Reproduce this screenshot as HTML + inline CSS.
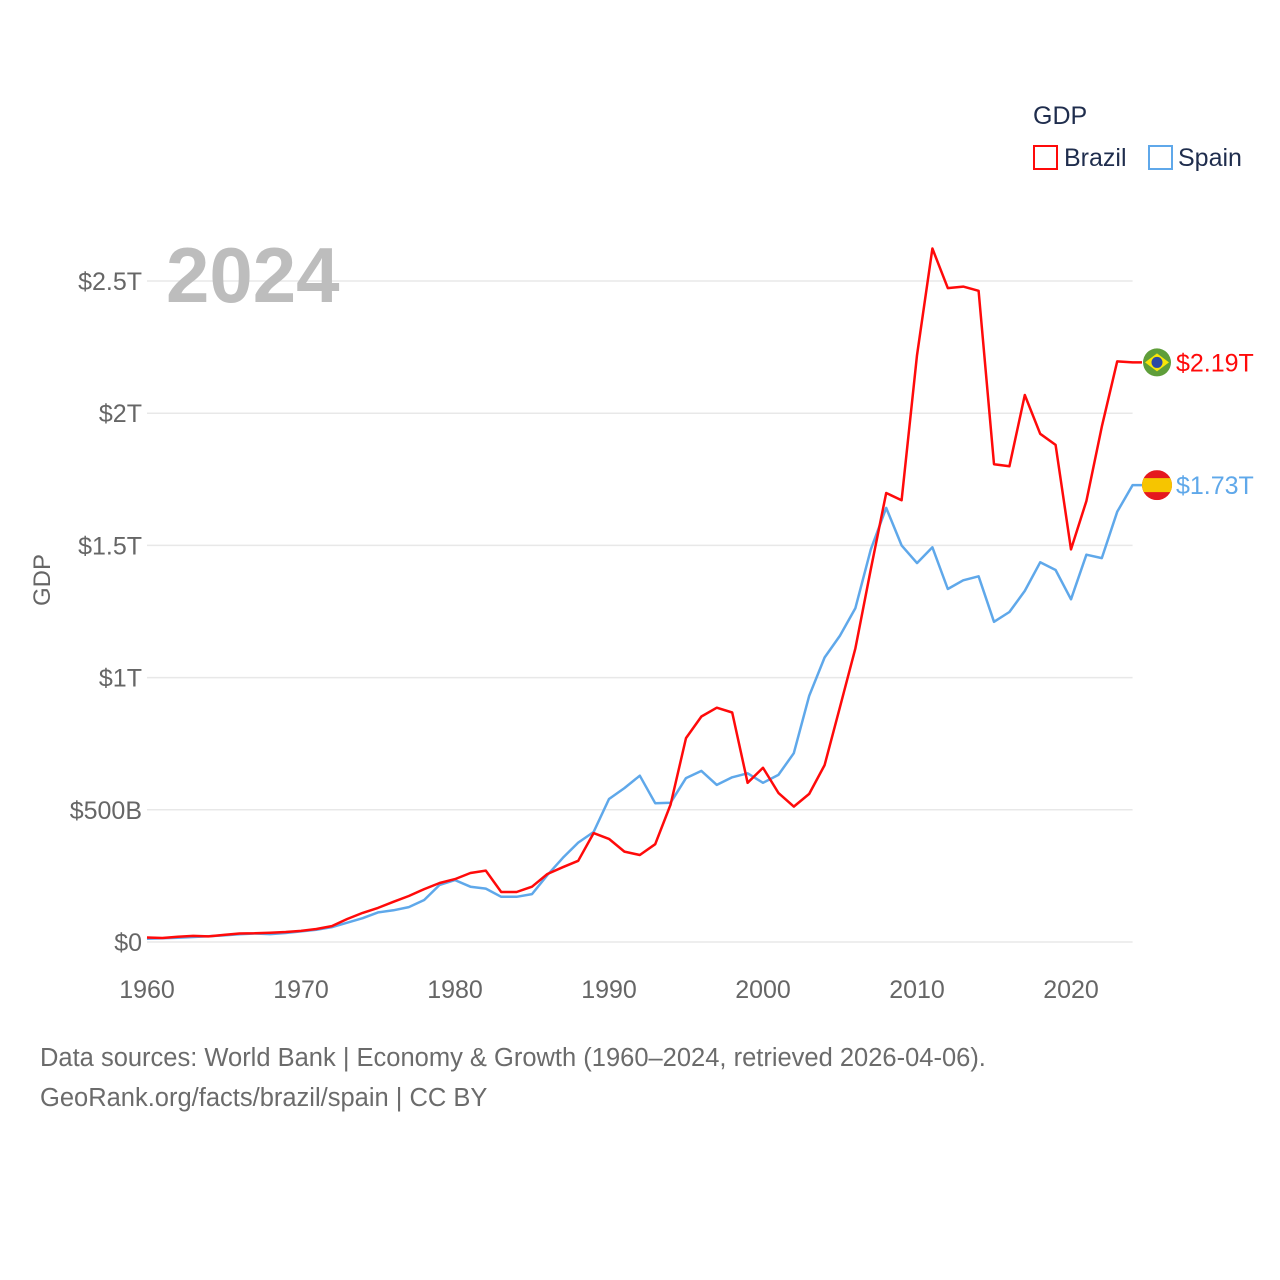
<!DOCTYPE html>
<html><head><meta charset="utf-8">
<style>
body{margin:0;background:#fff;font-family:"Liberation Sans",sans-serif;}
#wrap{position:relative;width:1280px;height:1280px;overflow:hidden;}
.src{position:absolute;left:40px;color:#6b6b6b;font-size:25.5px;}
</style></head><body>
<div id="wrap">
<svg id="chart" width="1280" height="1280"></svg>
<div class="src" style="top:1044px">Data sources: World Bank | Economy &amp; Growth (1960–2024, retrieved 2026-04-06).</div>
<div class="src" style="top:1084px">GeoRank.org/facts/brazil/spain | CC BY</div>
</div>
<script>
const years = Array.from({length:65},(_, i)=>1960+i);
const brazil = [17,15,20,23,21,27,32,33,35,38,42,49,60,87,110,129,152,174,200,223,238,261,270,189,189,209,257,283,307,412,390,342,329,370,520,771,853,886,868,602,659,564,512,560,669,889,1111,1410,1698,1671,2219,2623,2473,2479,2463,1807,1799,2069,1922,1880,1485,1668,1949,2196,2192];
const spain = [12,14,16,19,22,25,29,32,30,34,40,46,56,73,90,112,120,132,159,216,234,209,202,171,171,181,253,318,376,416,541,582,629,525,527,620,647,594,623,638,602,632,714,931,1076,1159,1263,1485,1642,1500,1433,1493,1335,1368,1383,1211,1248,1328,1436,1407,1296,1465,1452,1627,1728];
const yTicks = [0,500,1000,1500,2000,2500];
const yTickLabels = ["$0","$500B","$1T","$1.5T","$2T","$2.5T"];
const xTicks = [1960,1970,1980,1990,2000,2010,2020];
const endLabels = ["$2.19T","$1.73T"];

const NS="http://www.w3.org/2000/svg";
const svg=document.getElementById('chart');
const X0=147,X1=1132.6,Y0=942,Y1=281;
const xs=y=>X0+(y-1960)*(X1-X0)/64;
const ys=v=>Y0-v*(Y0-Y1)/2500;
function mk(tag,attrs,txt){const e=document.createElementNS(NS,tag);for(const k in attrs)e.setAttribute(k,attrs[k]);if(txt!==undefined)e.textContent=txt;svg.appendChild(e);return e;}
const F='"Liberation Sans",sans-serif';

yTicks.forEach((t,i)=>{
  const g=mk('line',{x1:X0,x2:X1,y1:ys(t),y2:ys(t),stroke:'#e8e8e8','stroke-width':1.5});
  
  
  const l=mk('text',{x:142,y:ys(t)+9,'text-anchor':'end','font-size':25,fill:'#666','font-family':F},yTickLabels[i]);
  
  
});
xTicks.forEach(t=>{
  const l=mk('text',{x:xs(t),y:998,'text-anchor':'middle','font-size':25,fill:'#666','font-family':F},String(t));
  
  
});
const yt=mk('text',{x:0,y:0,transform:'translate(50,580) rotate(-90)','text-anchor':'middle','font-size':24,fill:'#666','font-family':F},'GDP');



const yr=mk('text',{x:166,y:302,'font-size':78,'font-weight':'bold',fill:'#bdbdbd','font-family':F},'2024');



function series(vals,color,name){
  const d=vals.map((v,i)=>(i?'L':'M')+xs(years[i]).toFixed(1)+','+ys(v).toFixed(1)).join('')+'L1142,'+ys(vals[vals.length-1]).toFixed(1);
  const p=mk('path',{d:d,fill:'none',stroke:color,'stroke-width':2.5,'stroke-linejoin':'round'});
  
  
}
series(spain,'#5fa8ea','spain-line');
series(brazil,'#ff0a0a','brazil-line');

const lastB=brazil[brazil.length-1], lastS=spain[spain.length-1];
const fb=mk('g',{});


const cyB=ys(lastB);
fb.innerHTML=`<circle cx="1157" cy="${cyB}" r="14" fill="#5f9e3a"/><polygon points="1145,${cyB} 1157,${cyB-9} 1169,${cyB} 1157,${cyB+9}" fill="#f8e509"/><circle cx="1157" cy="${cyB}" r="5.5" fill="#2b49a3"/>`;
svg.appendChild(fb);
const cyS=ys(lastS);
const fs=mk('g',{});


fs.innerHTML=`<clipPath id="cs"><circle cx="1157" cy="${cyS}" r="15"/></clipPath><g clip-path="url(#cs)"><rect x="1140" y="${cyS-15}" width="34" height="30" fill="#e5181e"/><rect x="1140" y="${cyS-7}" width="34" height="14" fill="#f6c500"/></g>`;
svg.appendChild(fs);
const eb=mk('text',{x:1176,y:cyB+9,'font-size':25,fill:'#ff0a0a','font-family':F},endLabels[0]);


const es=mk('text',{x:1176,y:cyS+9,'font-size':25,fill:'#5fa8ea','font-family':F},endLabels[1]);



const lt=mk('text',{x:1033,y:124,'font-size':25,fill:'#1f2d4d','font-family':F},'GDP');


const r1=mk('rect',{x:1034,y:146,width:23,height:23,fill:'none',stroke:'#ff0a0a','stroke-width':2});


const t1=mk('text',{x:1064,y:166,'font-size':25,fill:'#1f2d4d','font-family':F},'Brazil');


const r2=mk('rect',{x:1149,y:146,width:23,height:23,fill:'none',stroke:'#5fa8ea','stroke-width':2});


const t2=mk('text',{x:1178,y:166,'font-size':25,fill:'#1f2d4d','font-family':F},'Spain');


</script>
</body></html>
